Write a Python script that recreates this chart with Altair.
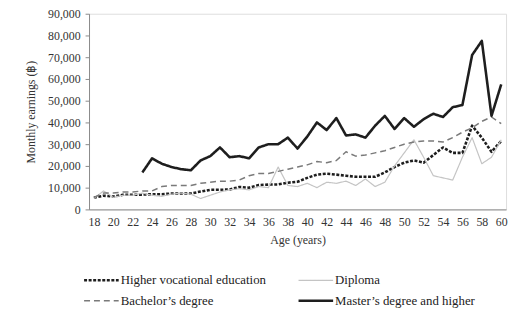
import altair as alt
import pandas as pd

ages = list(range(18, 61))

series_names = [
    "Higher vocational education",
    "Diploma",
    "Bachelor\u2019s degree",
    "Master\u2019s degree and higher",
]

higher_vocational = [5400, 6300, 5900, 6700, 6700, 6800, 7000, 7000, 7300, 7300,
                     7300, 8200, 9000, 9000, 9200, 10300, 10000, 11200, 11400, 11500,
                     12300, 12700, 14500, 16000, 16400, 16000, 15500, 15000, 15000, 15000,
                     17000, 19500, 21500, 22500, 21500, 25000, 28500, 26000, 26000, 38500,
                     33000, 26500, 31500]

diploma = [5000, 8500, 5500, 6500, 6500, 7500, 6500, 6000, 7000, 7500,
           7000, 5000, 6500, 8000, 9000, 9500, 9000, 10500, 10000, 19500,
           11000, 10500, 12000, 10000, 12500, 12000, 13000, 11000, 14000, 10500,
           12500, 20000, 26000, 32000, 24000, 15500, 14500, 13500, 24000, 33000,
           21000, 24000, 32000]

bachelor = [5500, 7500, 7500, 8000, 8000, 8500, 8500, 10500, 11000, 11000,
            11000, 12000, 12500, 13000, 13000, 13500, 15500, 16500, 16500, 17500,
            18500, 19500, 20500, 22000, 21500, 22500, 26500, 24500, 25000, 26000,
            27000, 28500, 30000, 31000, 31500, 31500, 31000, 33000, 35500, 37500,
            40500, 42500, 39500]

master = [None, None, None, None, None, 17000, 23500, 21000, 19500, 18500,
          18000, 22500, 24500, 28500, 24000, 24500, 23500, 28500, 30000, 30000,
          33000, 28000, 33500, 40000, 36500, 42000, 34000, 34500, 33000, 38500,
          43000, 37000, 42000, 38000, 41500, 44000, 42500, 47000, 48000, 71000,
          77500, 43000, 57500]

x_ticks = list(range(18, 61, 2))
y_ticks = list(range(0, 90001, 10000))

colors = ["#1e1e1e", "#c4c4c4", "#7a7a7a", "#1e1e1e"]
dashes = [[3, 1.6], [1, 0], [6, 4], [1, 0]]
widths = [2.6, 1.2, 1.5, 2.6]

rows = []
for name, vals in zip(series_names, [higher_vocational, diploma, bachelor, master]):
    for a, v in zip(ages, vals):
        if v is not None:
            rows.append({"age": a, "earnings": v, "series": name})
df = pd.DataFrame(rows)

FONT = "Liberation Serif"

legend = alt.Legend(
    title=None,
    orient="none",
    direction="horizontal",
    legendX=6,
    legendY=263,
    columns=2,
    columnPadding=26,
    rowPadding=7,
    padding=0,
    symbolType="M-3.5,0H3.5",
    symbolSize=100,
    labelOffset=13,
    labelFont=FONT,
    labelFontSize=13,
    labelColor="#222",
    labelLimit=300,
)

chart = alt.Chart(df).mark_line(strokeCap="butt", strokeJoin="round").encode(
    x=alt.X("age:Q",
            scale=alt.Scale(domain=[17.5, 60.5], nice=False, zero=False),
            axis=alt.Axis(values=x_ticks, title="Age (years)", grid=False,
                          ticks=False, labelPadding=7, domainColor="#8a8a8a",
                          labelFont=FONT, labelFontSize=12, labelColor="#333",
                          titleFont=FONT, titleFontSize=12, titleFontWeight="normal",
                          titleColor="#333", titlePadding=8)),
    y=alt.Y("earnings:Q",
            scale=alt.Scale(domain=[0, 90000], nice=False),
            axis=alt.Axis(values=y_ticks, format=",.0f", title="Monthly earnings (\u0e3f)",
                          grid=False, tickSize=4, tickColor="#8a8a8a", labelPadding=5,
                          domainColor="#8a8a8a",
                          labelFont=FONT, labelFontSize=12, labelColor="#333",
                          titleFont=FONT, titleFontSize=12, titleFontWeight="normal",
                          titleColor="#333", titlePadding=10)),
    color=alt.Color("series:N", scale=alt.Scale(domain=series_names, range=colors), legend=legend),
    strokeDash=alt.StrokeDash("series:N", scale=alt.Scale(domain=series_names, range=dashes), legend=legend),
    strokeWidth=alt.StrokeWidth("series:N", scale=alt.Scale(type="ordinal", domain=series_names, range=widths), legend=legend),
    detail="series:N",
).properties(
    width=422,
    height=198,
    autosize=alt.AutoSizeParams(type="none"),
    padding={"left": 82, "top": 4, "right": 5, "bottom": 100},
).configure_view(
    stroke="#d4d4d4", strokeWidth=1
).configure(background="white")

chart.save("out.html", embed_options={"renderer": "svg", "actions": False})
